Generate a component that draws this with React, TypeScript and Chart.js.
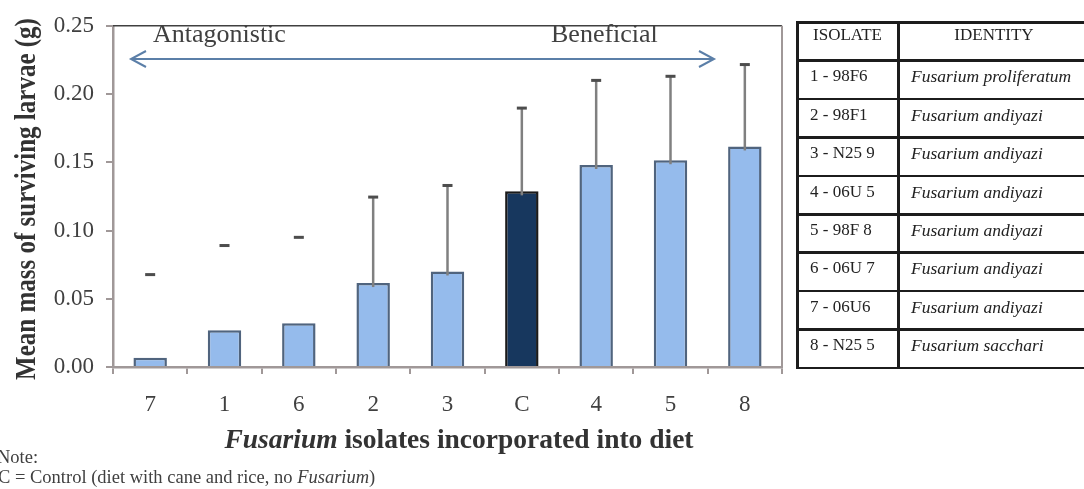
import React, { useEffect, useRef } from "react";
import { Chart, registerables } from "chart.js";

Chart.register(...registerables);

// ---- Data ----
const categories = ["7", "1", "6", "2", "3", "C", "4", "5", "8"];
const meanMass = [0.0067, 0.027, 0.032, 0.0615, 0.07, 0.1287, 0.148, 0.1515, 0.1616];
const errorUpper = [0.061, 0.062, 0.063, 0.063, 0.063, 0.061, 0.062, 0.0615, 0.06];
const stemVisible = [false, false, false, true, true, true, true, true, true];
const yTicks = [0, 0.05, 0.1, 0.15, 0.2, 0.25];
const controlLabel = "C";

const tableHeaders = ["ISOLATE", "IDENTITY"];
const isolates = ["1 - 98F6", "2 - 98F1", "3 - N25 9", "4 - 06U 5", "5 - 98F 8", "6 - 06U 7", "7 - 06U6", "8 - N25 5"];
const identities = [
  "Fusarium proliferatum",
  "Fusarium andiyazi",
  "Fusarium andiyazi",
  "Fusarium andiyazi",
  "Fusarium andiyazi",
  "Fusarium andiyazi",
  "Fusarium andiyazi",
  "Fusarium sacchari",
];

const SERIF = "'Liberation Serif', 'Times New Roman', serif";
const AXIS_GRAY = "#a09898";

const overlayPlugin = {
  id: "overlay",
  afterDatasetsDraw(chart: any) {
    const ctx = chart.ctx;
    const yScale = chart.scales.y;
    const meta = chart.getDatasetMeta(0);
    ctx.save();
    meta.data.forEach((bar: any, i: number) => {
      const x = bar.x;
      const yTop = yScale.getPixelForValue(meanMass[i] + errorUpper[i]);
      const yBase = yScale.getPixelForValue(meanMass[i]);
      if (stemVisible[i]) {
        ctx.strokeStyle = "#808080";
        ctx.lineWidth = 2.5;
        ctx.beginPath();
        ctx.moveTo(x, yBase + 4);
        ctx.lineTo(x, yTop);
        ctx.stroke();
      }
      ctx.fillStyle = "#4d4d4d";
      ctx.fillRect(x - 5, yTop - 1.5, 10, 3);
    });
    ctx.restore();
  },
  afterDraw(chart: any) {
    const ctx = chart.ctx;
    const a = chart.chartArea;
    ctx.save();
    // top and right frame
    ctx.strokeStyle = "#404040";
    ctx.lineWidth = 1.5;
    ctx.beginPath();
    ctx.moveTo(a.left, a.top);
    ctx.lineTo(a.right, a.top);
    ctx.stroke();
    ctx.strokeStyle = AXIS_GRAY;
    ctx.lineWidth = 2;
    ctx.beginPath();
    ctx.moveTo(a.right, a.top);
    ctx.lineTo(a.right, a.bottom);
    ctx.stroke();

    // double arrow
    const ay = 59;
    const ax1 = 131;
    const ax2 = 714;
    ctx.strokeStyle = "#5b7fa8";
    ctx.lineWidth = 2;
    ctx.beginPath();
    ctx.moveTo(ax1, ay);
    ctx.lineTo(ax2, ay);
    ctx.moveTo(ax1 + 15, ay - 8);
    ctx.lineTo(ax1, ay);
    ctx.lineTo(ax1 + 15, ay + 8);
    ctx.moveTo(ax2 - 15, ay - 8);
    ctx.lineTo(ax2, ay);
    ctx.lineTo(ax2 - 15, ay + 8);
    ctx.stroke();

    // arrow labels
    ctx.fillStyle = "#404040";
    ctx.font = `26px ${SERIF}`;
    ctx.textBaseline = "alphabetic";
    ctx.textAlign = "left";
    ctx.fillText("Antagonistic", 153, 42);
    ctx.fillText("Beneficial", 551, 42);

    // y title
    ctx.save();
    ctx.translate(35, 199);
    ctx.rotate(-Math.PI / 2);
    ctx.scale(1, 1.2);
    ctx.font = `bold 25px ${SERIF}`;
    ctx.fillStyle = "#333333";
    ctx.textAlign = "center";
    ctx.fillText("Mean mass of surviving larvae (g)", 0, 0);
    ctx.restore();

    // x title
    ctx.fillStyle = "#333333";
    const p1 = "Fusarium";
    const p2 = " isolates incorporated into diet";
    const fs = 27.5;
    ctx.font = `italic bold ${fs}px ${SERIF}`;
    const w1 = ctx.measureText(p1).width;
    ctx.font = `bold ${fs}px ${SERIF}`;
    const w2 = ctx.measureText(p2).width;
    const sx = 459 - (w1 + w2) / 2;
    ctx.font = `italic bold ${fs}px ${SERIF}`;
    ctx.fillText(p1, sx, 448);
    ctx.font = `bold ${fs}px ${SERIF}`;
    ctx.fillText(p2, sx + w1, 448);

    // note
    ctx.fillStyle = "#404040";
    const nf = 18.5;
    ctx.font = `${nf}px ${SERIF}`;
    ctx.fillText("Note:", -3, 463);
    const n1 = "C = Control (diet with cane and rice, no ";
    ctx.fillText(n1, -2, 483);
    const nw = ctx.measureText(n1).width;
    ctx.font = `italic ${nf}px ${SERIF}`;
    ctx.fillText("Fusarium", -2 + nw, 483);
    const nw2 = ctx.measureText("Fusarium").width;
    ctx.font = `${nf}px ${SERIF}`;
    ctx.fillText(")", -2 + nw + nw2, 483);
    ctx.restore();
  },
};

function BarChart() {
  const ref = useRef<HTMLCanvasElement | null>(null);
  useEffect(() => {
    if (!ref.current) return;
    const chart = new Chart(ref.current, {
      type: "bar",
      data: {
        labels: categories,
        datasets: [
          {
            data: meanMass,
            backgroundColor: categories.map((c) => (c === controlLabel ? "#17375e" : "#95bbec")),
            borderColor: categories.map((c) => (c === controlLabel ? "#1a1a1a" : "#50647e")),
            borderWidth: 2.5,
            barPercentage: 0.45,
            categoryPercentage: 1,
          },
        ],
      },
      options: {
        responsive: false,
        animation: false,
        devicePixelRatio: 1,
        layout: { padding: { top: 20, right: 302, left: 0, bottom: 0 } },
        plugins: {
          legend: { display: false },
          tooltip: { enabled: false },
          title: { display: false },
        },
        scales: {
          x: {
            grid: {
              drawOnChartArea: false,
              drawTicks: true,
              tickLength: 7,
              color: AXIS_GRAY,
              lineWidth: 2,
              offset: true,
            },
            border: { color: AXIS_GRAY, width: 2.5 },
            ticks: {
              font: { family: SERIF, size: 23 },
              color: "#404040",
              padding: 17,
              maxRotation: 0,
            },
            afterFit: (s: any) => {
              s.height = 122;
            },
          },
          y: {
            min: 0,
            max: 0.25,
            afterBuildTicks: (s: any) => {
              s.ticks = yTicks.map((v) => ({ value: v }));
            },
            ticks: {
              callback: (v: any) => Number(v).toFixed(2),
              font: { family: SERIF, size: 23 },
              color: "#404040",
              padding: 12,
            },
            grid: {
              drawOnChartArea: false,
              drawTicks: true,
              tickLength: 7,
              color: AXIS_GRAY,
              lineWidth: 2,
            },
            border: { color: AXIS_GRAY, width: 2.5 },
            afterFit: (s: any) => {
              s.width = 113;
            },
          },
        },
      },
      plugins: [overlayPlugin],
    } as any);
    return () => chart.destroy();
  }, []);
  return (
    <canvas
      ref={ref}
      width={1084}
      height={489}
      style={{ position: "absolute", left: 0, top: 0, width: 1084, height: 489 }}
    />
  );
}

function IsolateTable() {
  const top = 22;
  const left = 797;
  const rowH = 38.4;
  const colX = 898;
  const right = 1100;
  const nRows = isolates.length + 1;
  const lineColor = "#1c1c1c";
  const rows = [tableHeaders, ...isolates.map((iso, i) => [iso, identities[i]])];
  return (
    <div style={{ position: "absolute", left: 0, top: 0, width: 1084, height: 489, pointerEvents: "none" }}>
      {rows.map((r, i) => {
        const y = top + i * rowH;
        const header = i === 0;
        const ty = header ? y + 4 : y + 7;
        return (
          <React.Fragment key={i}>
            <div
              style={{
                position: "absolute",
                left: left,
                top: y - 1,
                width: right - left,
                height: 2.5,
                background: lineColor,
              }}
            />
            <div
              style={{
                position: "absolute",
                left: header ? left : left + 13,
                width: header ? colX - left : undefined,
                top: ty,
                fontFamily: SERIF,
                fontSize: 17,
                lineHeight: "18px",
                color: "#222",
                whiteSpace: "nowrap",
                textAlign: header ? "center" : "left",
              }}
            >
              {r[0]}
            </div>
            <div
              style={{
                position: "absolute",
                left: header ? colX : colX + 13,
                width: header ? 192 : undefined,
                top: ty,
                fontFamily: SERIF,
                fontSize: header ? 17 : 17.5,
                fontStyle: header ? "normal" : "italic",
                lineHeight: "18px",
                color: "#222",
                whiteSpace: "nowrap",
                textAlign: header ? "center" : "left",
              }}
            >
              {r[1]}
            </div>
          </React.Fragment>
        );
      })}
      <div
        style={{
          position: "absolute",
          left: left,
          top: top + nRows * rowH - 1,
          width: right - left,
          height: 2.5,
          background: lineColor,
        }}
      />
      <div
        style={{
          position: "absolute",
          left: left - 1,
          top: top - 1,
          width: 2.5,
          height: nRows * rowH + 2,
          background: lineColor,
        }}
      />
      <div
        style={{
          position: "absolute",
          left: colX - 1,
          top: top - 1,
          width: 2.5,
          height: nRows * rowH + 2,
          background: lineColor,
        }}
      />
    </div>
  );
}

export default function App() {
  return (
    <div
      style={{
        position: "absolute",
        left: 0,
        top: 0,
        width: 1084,
        height: 489,
        overflow: "hidden",
        background: "#ffffff",
      }}
    >
      <BarChart />
      <IsolateTable />
    </div>
  );
}
